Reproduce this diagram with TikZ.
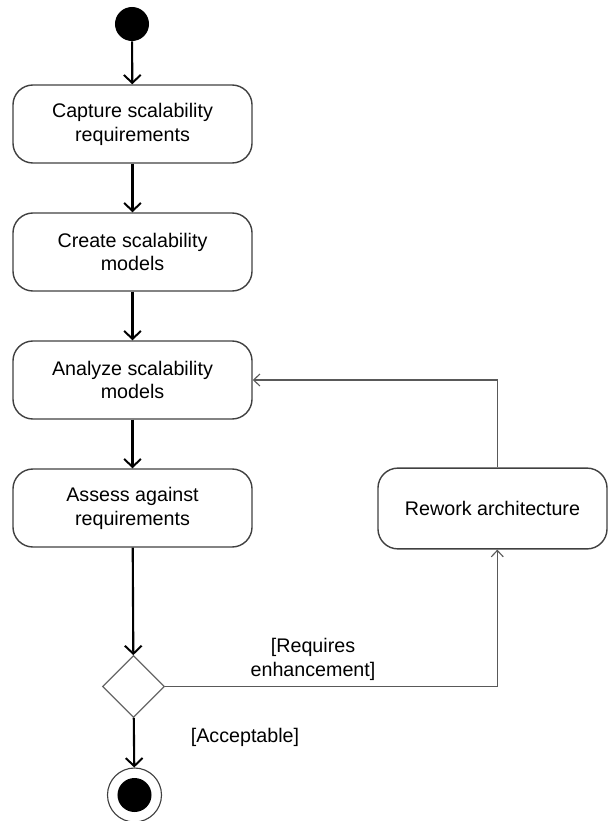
\documentclass[tikz,border=0pt]{standalone}
\usepackage{fontspec}
\setmainfont{Liberation Sans}
\usetikzlibrary{shapes.geometric,arrows.meta}

\tikzset{
	activity/.style={draw=black!75, line width=1pt, rounded corners=0.5cm,
		minimum width=5.975cm, minimum height=1.95cm, align=center,
		font=\fontsize{14pt}{17pt}\selectfont},
	flow/.style={line width=1.5pt, -{Straight Barb[length=0.2cm, width=0.42cm, line width=1.4pt]}},
	loop/.style={draw=black!65, line width=0.8pt, -{Straight Barb[length=0.16cm, width=0.3cm, line width=0.8pt]}},
	guard/.style={align=center, font=\fontsize{14pt}{17pt}\selectfont}
}

\begin{document}
\begin{tikzpicture}[x=0.025cm, y=-0.025cm]
		\useasboundingbox (0,0) rectangle (608,821);

		\node [circle, fill=black, inner sep=0, minimum size=0.85cm] at (132,24) (start) {};

		\node [activity] at (132.5,124) (capture) {Capture scalability\\requirements};
		\node [activity] at (132.5,252) (create) {Create scalability\\models};
		\node [activity] at (132.5,380) (analyze) {Analyze scalability\\models};
		\node [activity] at (132.5,508) (assess) {Assess against\\requirements};
		\node [activity, minimum width=5.725cm, minimum height=2.02cm] at (492.5,508.5) (rework) {Rework architecture};

		\node [diamond, draw=black!60, line width=0.8pt, inner sep=0, aspect=1, minimum size=1.55cm] at (133.5,686.5) (decide) {};

		\node [circle, draw=black!75, line width=0.8pt, inner sep=0, minimum size=1.35cm] at (134.5,795) (stop) {};
		\node [circle, fill=black, inner sep=0, minimum size=0.85cm] at (stop.center) (stopdot) {};

		\node [guard] at (313,659) (enh) {[Requires\\enhancement]};
		\node [guard] at (245,737) (ok) {[Acceptable]};

		\draw [flow] (start) -- (capture);
		\draw [flow] (capture) -- (create);
		\draw [flow] (create) -- (analyze);
		\draw [flow] (analyze) -- (assess);
		\draw [flow] (assess) -- (decide);
		\draw [flow] (decide) -- (stop);

		% loop back through the rework step
		\draw [loop] (decide.east) -| ([xshift=0.12cm]rework.south);
		\draw [loop] ([xshift=0.12cm]rework.north) |- (analyze.east);
	\end{tikzpicture}
\end{document}
